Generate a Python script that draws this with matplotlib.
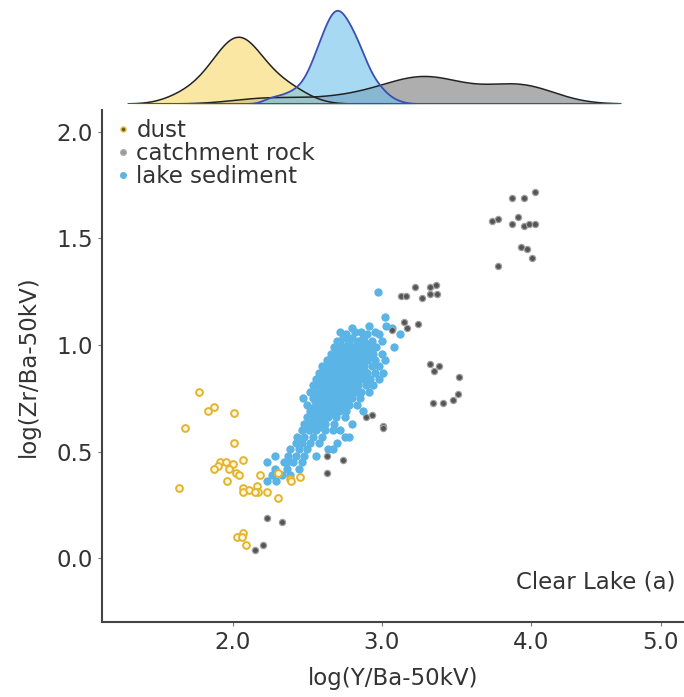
import numpy as np
import matplotlib
matplotlib.use("Agg")
import matplotlib.pyplot as plt
from matplotlib.lines import Line2D

plt.rcParams['font.family'] = ['DejaVu Sans']

# dust samples (log Y/Ba, log Zr/Ba)
dust_x = [1.77, 1.87, 1.83, 2.01, 1.68, 2.01, 2.07, 1.91, 1.95, 2.00, 1.90, 1.87,
          1.97, 2.02, 2.04, 1.96, 2.18, 2.30, 2.38, 2.39, 2.45, 1.64, 2.07, 2.11,
          2.16, 2.17, 2.15, 2.23, 2.07, 2.30, 2.07, 2.03, 2.06, 2.09]
dust_y = [0.78, 0.71, 0.69, 0.68, 0.61, 0.54, 0.46, 0.45, 0.45, 0.44, 0.43, 0.42,
          0.42, 0.40, 0.39, 0.36, 0.39, 0.40, 0.37, 0.36, 0.38, 0.33, 0.33, 0.32,
          0.34, 0.31, 0.31, 0.31, 0.31, 0.28, 0.12, 0.10, 0.10, 0.06]

# catchment rock samples
rock_x = [3.87, 3.95, 4.03, 3.74, 3.78, 3.91, 3.87, 3.95, 3.99, 4.03, 3.93, 3.97,
          4.01, 3.78, 3.13, 3.16, 3.22, 3.32, 3.36, 3.32, 3.37, 3.27, 3.15, 3.17,
          3.24, 3.07, 3.32, 3.38, 3.35, 3.52, 3.34, 3.41, 3.48, 3.51, 2.93, 2.89,
          3.01, 3.01, 2.63, 2.74, 2.63, 2.23, 2.33, 2.15, 2.20]
rock_y = [1.69, 1.69, 1.72, 1.58, 1.59, 1.60, 1.57, 1.56, 1.57, 1.57, 1.46, 1.45,
          1.41, 1.37, 1.23, 1.23, 1.27, 1.27, 1.28, 1.24, 1.24, 1.22, 1.11, 1.08,
          1.10, 1.07, 0.91, 0.90, 0.88, 0.85, 0.73, 0.73, 0.74, 0.77, 0.67, 0.66,
          0.62, 0.61, 0.48, 0.46, 0.40, 0.19, 0.17, 0.04, 0.06]

# lake sediment samples, read row by row (log Zr/Ba, [log Y/Ba ...])
lake_rows = [
    (1.25, [2.97]),
    (1.13, [3.02]),
    (1.09, [2.91, 3.03]),
    (1.08, [3.07, 2.80]),
    (1.06, [2.72, 2.82, 2.86, 2.95]),
    (1.05, [3.12, 2.76, 2.90, 2.98]),
    (1.035, [2.74, 2.80, 2.87]),
    (1.02, [2.70, 2.78, 2.84, 2.88, 2.93, 3.00]),
    (1.005, [2.72, 2.77, 2.83, 2.89]),
    (0.99, [2.68, 2.74, 2.80, 2.86, 2.92, 3.08, 2.96]),
    (0.98, [2.76, 2.81]),
    (0.975, [2.69, 2.73, 2.79, 2.84, 2.90]),
    (0.97, [2.85, 2.87]),
    (0.96, [2.66, 2.70, 2.76, 2.82, 2.88, 2.94, 3.00]),
    (0.95, [2.73, 2.78, 2.83]),
    (0.945, [2.67, 2.71, 2.75, 2.81, 2.86, 2.92]),
    (0.94, [2.88]),
    (0.93, [2.63, 2.68, 2.72, 2.78, 2.84, 2.90, 2.95, 3.02]),
    (0.92, [2.70, 2.75, 2.80, 2.85]),
    (0.915, [2.64, 2.68, 2.72, 2.77, 2.82, 2.87]),
    (0.90, [2.60, 2.65, 2.70, 2.74, 2.79, 2.84, 2.88, 2.93, 2.98]),
    (0.89, [2.68, 2.72, 2.76, 2.81, 2.86]),
    (0.885, [2.62, 2.66, 2.70, 2.74, 2.78, 2.83, 2.88]),
    (0.87, [2.58, 2.63, 2.68, 2.72, 2.76, 2.80, 2.85, 2.90, 2.95, 3.01]),
    (0.86, [2.66, 2.70, 2.74, 2.78, 2.82]),
    (0.855, [2.60, 2.64, 2.68, 2.72, 2.76, 2.80, 2.85]),
    (0.84, [2.56, 2.61, 2.66, 2.70, 2.74, 2.78, 2.82, 2.87, 2.92, 2.98]),
    (0.83, [2.65, 2.69, 2.73, 2.77, 2.81]),
    (0.825, [2.59, 2.63, 2.67, 2.71, 2.75, 2.79, 2.83]),
    (0.81, [2.54, 2.58, 2.63, 2.67, 2.71, 2.75, 2.80, 2.84, 2.89, 2.94]),
    (0.80, [2.64, 2.68, 2.72, 2.76, 2.80]),
    (0.795, [2.57, 2.61, 2.65, 2.69, 2.73, 2.77, 2.81]),
    (0.78, [2.52, 2.56, 2.61, 2.65, 2.69, 2.73, 2.77, 2.82, 2.86, 2.91]),
    (0.77, [2.63, 2.67, 2.71, 2.75]),
    (0.765, [2.56, 2.60, 2.64, 2.68, 2.72, 2.76]),
    (0.75, [2.47, 2.54, 2.58, 2.62, 2.67, 2.71, 2.76, 2.80, 2.85]),
    (0.74, [2.62, 2.66, 2.70, 2.74]),
    (0.735, [2.55, 2.59, 2.63, 2.67, 2.71]),
    (0.72, [2.50, 2.56, 2.60, 2.64, 2.68, 2.73, 2.78, 2.83]),
    (0.71, [2.61, 2.65, 2.69]),
    (0.705, [2.54, 2.58, 2.62, 2.66, 2.70]),
    (0.69, [2.52, 2.57, 2.62, 2.66, 2.71, 2.76, 2.87]),
    (0.68, [2.60, 2.64, 2.68]),
    (0.675, [2.53, 2.57, 2.61, 2.65]),
    (0.66, [2.50, 2.55, 2.60, 2.64, 2.69, 2.75]),
    (0.645, [2.52, 2.56, 2.60]),
    (0.63, [2.48, 2.53, 2.58, 2.62, 2.68, 2.80]),
    (0.615, [2.50, 2.54, 2.58]),
    (0.60, [2.46, 2.51, 2.56, 2.62, 2.72, 2.67]),
    (0.57, [2.43, 2.48, 2.54, 2.60, 2.75, 2.78]),
    (0.54, [2.42, 2.46, 2.52, 2.58, 2.70]),
    (0.51, [2.38, 2.44, 2.50, 2.64, 2.67]),
    (0.48, [2.28, 2.37, 2.42, 2.48, 2.56]),
    (0.45, [2.23, 2.34, 2.40, 2.46, 2.36]),
    (0.42, [2.28, 2.36, 2.44]),
    (0.39, [2.26, 2.33, 2.38]),
    (0.36, [2.23, 2.29]),
]
lake_x = [x for y, xs in lake_rows for x in xs]
lake_y = [y for y, xs in lake_rows for x in xs]

tick_x = [2.0, 3.0, 4.0, 4.87]   # the "5.0" tick sits short of 5 in the source figure
tick_x_labels = ['2.0', '3.0', '4.0', '5.0']
tick_y = [0.0, 0.5, 1.0, 1.5, 2.0]

c_dust = '#E3B52F'
c_rock = '#555555'
c_lake = '#5AB4E5'
txt = '#333333'
fs = 16.5


def kde(data, grid, bw):
    d = np.asarray(data)[:, None]
    k = np.exp(-0.5 * ((grid[None, :] - d) / bw) ** 2)
    return k.sum(axis=0) / (len(data) * bw * np.sqrt(2 * np.pi))


fig = plt.figure(figsize=(6.84, 6.97), dpi=100)
ax = fig.add_axes([102 / 684, 75 / 697, 582 / 684, 512 / 697])
axt = fig.add_axes([102 / 684, 593 / 697, 582 / 684, 96 / 697], sharex=ax)

ax.scatter(lake_x, lake_y, s=36, color=c_lake, linewidths=0, zorder=2)
ax.scatter(dust_x, dust_y, s=24, facecolor='#FFF8E0', edgecolor=c_dust,
           linewidths=1.4, zorder=3)
ax.scatter(rock_x, rock_y, s=20, facecolor=c_rock, edgecolor='#a0a0a0',
           linewidths=0.9, zorder=4)

ax.set_xlim(1.121, 5.027)
ax.set_ylim(-0.30, 2.103)
ax.set_xticks(tick_x)
ax.set_xticklabels(tick_x_labels)
ax.set_yticks(tick_y)
ax.set_yticklabels([f'{v:.1f}' for v in tick_y])
for s in ['top', 'right']:
    ax.spines[s].set_visible(False)
for s in ['left', 'bottom']:
    ax.spines[s].set_color('#444444')
    ax.spines[s].set_linewidth(1.5)
ax.tick_params(colors='#777777', labelcolor=txt, labelsize=fs, length=3, width=0.8)
ax.set_xlabel('log(Y/Ba-50kV)', fontsize=fs, color=txt, labelpad=9)
ax.set_ylabel('log(Zr/Ba-50kV)', fontsize=fs, color=txt, labelpad=12)
ax.text(0.985, 0.055, 'Clear Lake (a)', transform=ax.transAxes, ha='right',
        va='bottom', fontsize=fs, color=txt)

handles = [
    Line2D([], [], ls='none', marker='o', ms=3.5, mfc='#6b5a10', mec=c_dust, mew=1),
    Line2D([], [], ls='none', marker='o', ms=4, mfc='#999999', mec='#aaaaaa'),
    Line2D([], [], ls='none', marker='o', ms=4, mfc=c_lake, mec=c_lake),
]
ax.legend(handles, ['dust', 'catchment rock', 'lake sediment'], loc='upper left',
          bbox_to_anchor=(0.0, 1.01), frameon=False, fontsize=fs, handlelength=0.6,
          handletextpad=0.3, labelspacing=0.0, borderaxespad=0.2,
          labelcolor=txt)

# marginal densities
grid = np.linspace(1.30, 4.60, 600)
d_rock = kde(rock_x, grid, 0.22)
d_dust = kde(dust_x, grid, 0.13)
d_lake = kde(lake_x, grid, 0.05)
axt.fill_between(grid, d_rock, color='#8c8c8c', alpha=0.7, lw=0)
axt.plot(grid, d_rock, color='#222222', lw=1.1)
axt.fill_between(grid, d_dust, color='#F9DD7E', alpha=0.7, lw=0)
axt.plot(grid, d_dust, color='#222222', lw=1.1)
axt.fill_between(grid, d_lake, color='#6CC0EC', alpha=0.6, lw=0)
axt.plot(grid, d_lake, color='#3B4FB0', lw=1.3)
axt.plot([grid[0], grid[-1]], [0, 0], color='#3B4FB0', lw=1.5)
axt.set_ylim(0, d_lake.max() * 1.03)
axt.axis('off')

fig.savefig('out.png', dpi=100)
